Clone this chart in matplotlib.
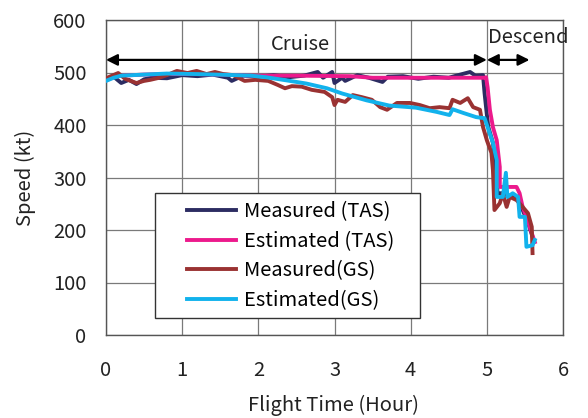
import matplotlib
matplotlib.use("Agg")
import matplotlib.pyplot as plt
from matplotlib.patches import Rectangle

plt.rcParams['font.family'] = ['Noto Sans CJK JP', 'DejaVu Sans']

# --- Data ---
tas_meas_t = [0, 0.1, 0.2, 0.3, 0.4, 0.5, 0.6, 0.8, 1.0, 1.2, 1.4, 1.6, 1.65, 1.8, 2.0, 2.2,
              2.4, 2.6, 2.78, 2.85, 2.97, 3.0, 3.1, 3.14, 3.3, 3.45, 3.63, 3.7, 3.9, 4.1,
              4.3, 4.5, 4.6, 4.78, 4.85, 4.95, 4.97, 5.0, 5.02, 5.08, 5.13, 5.14, 5.2,
              5.3, 5.4, 5.45, 5.5, 5.55, 5.6]
tas_meas_v = [488, 492, 480, 486, 478, 487, 490, 489, 495, 493, 496, 490, 484, 494, 492, 495,
              491, 494, 501, 490, 501, 480, 490, 484, 495, 490, 482, 492, 493, 488,
              492, 490, 494, 501, 494, 495, 461, 420, 396, 366, 301, 270, 270,
              265, 262, 245, 228, 210, 187]

tas_est_t = [0, 0.1, 0.2, 0.5, 0.8, 1.2, 1.7, 1.9, 2.5, 3.2, 3.4, 3.5, 4.97, 4.99, 5.01,
             5.04, 5.08, 5.13, 5.17, 5.17, 5.21, 5.39, 5.43, 5.47, 5.52, 5.59, 5.63]
tas_est_v = [485, 491, 494, 496, 497, 497, 495, 494, 494, 493, 491, 490, 490, 491, 472,
             429, 396, 371, 320, 282, 282, 282, 270, 244, 225, 194, 177]

gs_meas_t = [0, 0.08, 0.16, 0.25, 0.4, 0.5, 0.58, 0.7, 0.8, 0.93, 1.07, 1.19, 1.32, 1.43,
             1.54, 1.67, 1.82, 1.96, 2.13, 2.26, 2.35, 2.44, 2.57, 2.7, 2.87, 2.97, 3.0,
             3.04, 3.14, 3.24, 3.36, 3.49, 3.6, 3.69, 3.82, 3.99, 4.12, 4.25, 4.38, 4.51,
             4.55, 4.65, 4.75, 4.82, 4.91, 4.95, 5.0, 5.06, 5.08, 5.1, 5.17, 5.21, 5.26,
             5.3, 5.39, 5.47, 5.54, 5.59, 5.6]
gs_meas_v = [489, 494, 499, 488, 480, 484, 486, 490, 495, 503, 499, 503, 497, 501,
             497, 495, 484, 486, 484, 476, 470, 474, 473, 467, 463, 453, 438,
             448, 444, 457, 453, 448, 434, 429, 442, 442, 438, 432, 434, 432,
             448, 442, 451, 434, 429, 396, 371, 347, 314, 238, 251, 270, 244,
             263, 257, 244, 232, 206, 156]

gs_est_t = [0, 0.1, 0.2, 0.5, 0.8, 1.2, 1.7, 1.9, 2.1, 2.37, 2.63, 2.9, 3.1, 3.42, 3.72,
            4.07, 4.34, 4.51, 4.55, 4.69, 4.86, 4.97, 5.01, 5.08, 5.13, 5.13, 5.21, 5.25,
            5.27, 5.34, 5.41, 5.43, 5.5, 5.52, 5.6, 5.63]
gs_est_v = [484, 490, 494, 496, 498, 497, 495, 494, 491, 485, 479, 470, 460, 447, 437,
            433, 425, 419, 430, 423, 415, 413, 396, 366, 333, 263, 263, 309,
            263, 270, 263, 225, 225, 168, 171, 181]

series = [
    (tas_meas_t, tas_meas_v, '#2c2c62', 'Measured (TAS)'),
    (tas_est_t, tas_est_v, '#ec1a8c', 'Estimated (TAS)'),
    (gs_meas_t, gs_meas_v, '#9a3232', 'Measured(GS)'),
    (gs_est_t, gs_est_v, '#12b2ec', 'Estimated(GS)'),
]
draw_order = [0, 2, 1, 3]
FS = 14.5

# --- Plot ---
fig = plt.figure(figsize=(5.88, 4.18), dpi=100)
ax = fig.add_axes([106 / 588, 1 - 335 / 418, 457 / 588, 315 / 418])

handles = {}
for i in draw_order:
    t, v, c, lab = series[i]
    h, = ax.plot(t, v, color=c, linewidth=2.8, label=lab, zorder=3 + i * 0.1)
    handles[i] = h

ax.set_xlim(0, 6)
ax.set_ylim(0, 600)
ax.set_xticks(range(0, 7))
ax.set_yticks(range(0, 601, 100))
ax.grid(True, color='#7a7a7a', linewidth=0.9)
ax.set_axisbelow(True)
ax.tick_params(length=0, labelsize=FS, colors='#222222')
ax.tick_params(axis='x', pad=18)
ax.tick_params(axis='y', pad=14)
for s in ax.spines.values():
    s.set_color('#555555')
    s.set_linewidth(1.0)

ax.set_xlabel('Flight Time (Hour)', fontsize=FS, color='#222222')
ax.set_ylabel('Speed (kt)', fontsize=FS, color='#222222')
ax.xaxis.set_label_coords(0.497, -0.222)
ax.xaxis.label.set_va('center')
ax.yaxis.set_label_coords(-0.177, 0.5)
ax.yaxis.label.set_va('center')

# phase arrows
ax.annotate('', xy=(0, 524), xytext=(5, 524),
            arrowprops=dict(arrowstyle='<|-|>', color='black', lw=1.6,
                            mutation_scale=17, shrinkA=0, shrinkB=0))
ax.annotate('', xy=(5, 524), xytext=(5.56, 524),
            arrowprops=dict(arrowstyle='<|-|>', color='black', lw=1.6,
                            mutation_scale=17, shrinkA=0, shrinkB=0), annotation_clip=False)
ax.text(2.55, 554, 'Cruise', fontsize=FS, ha='center', va='center', color='#222222')
ax.text(5.02, 566, 'Descend', fontsize=FS, ha='left', va='center', color='#222222',
        clip_on=False)

# legend with its own frame
ax.add_patch(Rectangle((0.107, 0.054), 0.58, 0.397, transform=ax.transAxes,
                       facecolor='white', edgecolor='#333333', linewidth=1.0, zorder=6))
leg = ax.legend([handles[i] for i in range(4)], [s[3] for s in series],
                loc='upper left', bbox_to_anchor=(0.16, 0.45), frameon=False,
                fontsize=FS, handlelength=2.4, handletextpad=0.4, labelspacing=0.42,
                borderaxespad=0)
leg.set_zorder(7)

fig.savefig('out.png', dpi=100)
